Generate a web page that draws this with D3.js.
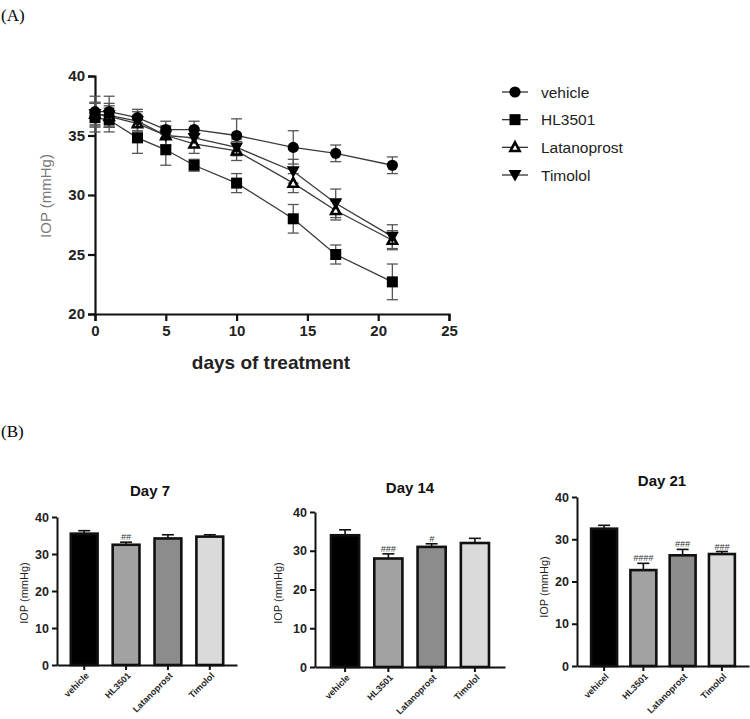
<!DOCTYPE html>
<html><head><meta charset="utf-8">
<script src="https://cdn.jsdelivr.net/npm/d3@7"></script>
<style>body{margin:0;background:#fff}svg{display:block}</style>
</head><body>
<svg id="c" width="750" height="719"></svg>
<script>
// ---------- DATA ----------
const days = [0, 1, 3, 5, 7, 10, 14, 17, 21];
const seriesNames = ["vehicle", "HL3501", "Latanoprost", "Timolol"];
const vehicleMean = [37, 37, 36.5, 35.5, 35.5, 35, 34, 33.5, 32.5];
const vehicleErr  = [1.3, 1.3, 0.7, 0.7, 0.7, 1.4, 1.4, 0.7, 0.7];
const hlMean      = [36.5, 36.3, 34.8, 33.8, 32.5, 31, 28, 25, 22.7];
const hlErr       = [1.2, 1.0, 1.3, 1.3, 0.5, 0.8, 1.2, 0.8, 1.5];
const latMean     = [36.8, 36.6, 36, 35, 34.3, 33.7, 31, 28.7, 26.2];
const latErr      = [0.9, 0.9, 0.7, 0.8, 0.8, 0.8, 0.8, 0.8, 0.8];
const timMean     = [36.8, 36.7, 36.2, 35, 34.8, 34, 32, 29.3, 26.5];
const timErr      = [1.0, 1.0, 0.8, 0.8, 0.8, 0.7, 1.0, 1.2, 1.0];
const lineYTicks = [20, 25, 30, 35, 40];
const lineXTicks = [0, 5, 10, 15, 20, 25];

const barTitles = ["Day 7", "Day 14", "Day 21"];
const barCats7  = ["vehicle", "HL3501", "Latanoprost", "Timolol"];
const barCats14 = ["vehicle", "HL3501", "Latanoprost", "Timolol"];
const barCats21 = ["vehicel", "HL3501", "Latanoprost", "Timolol"];
const day7Mean  = [35.5, 32.5, 34.2, 34.7];
const day7Err   = [0.8, 0.7, 1.0, 0.5];
const day7Sig   = ["", "##", "", ""];
const day14Mean = [34, 28, 31, 32];
const day14Err  = [1.4, 1.2, 0.8, 1.2];
const day14Sig  = ["", "###", "#", ""];
const day21Mean = [32.5, 22.7, 26.2, 26.5];
const day21Err  = [0.8, 1.6, 1.4, 0.6];
const day21Sig  = ["", "####", "###", "###"];
const barYTicks = [0, 10, 20, 30, 40];

// ---------- STYLE ----------
const SANS = "'Liberation Sans', Arial, sans-serif";
const SERIF = "'Liberation Serif', 'Times New Roman', serif";
const barFills = ["#000000", "#a2a2a2", "#8c8c8c", "#dadada"];

const svg = d3.select("#c");

// panel letters
svg.append("text").attr("x", 1).attr("y", 21).attr("font-family", SERIF).attr("font-size", 17).text("(A)");
svg.append("text").attr("x", 1).attr("y", 437).attr("font-family", SERIF).attr("font-size", 17).text("(B)");

// ---------- LINE CHART ----------
const xL = d3.scaleLinear().domain([0, 25]).range([95, 449]);
const yL = d3.scaleLinear().domain([20, 40]).range([314, 76]);

const gL = svg.append("g");
const xAx = gL.append("g").attr("transform", "translate(0,314)")
  .call(d3.axisBottom(xL).tickValues(lineXTicks).tickSize(7).tickPadding(4));
const yAx = gL.append("g").attr("transform", "translate(95,0)")
  .call(d3.axisLeft(yL).tickValues(lineYTicks).tickSize(7).tickPadding(3));
[xAx, yAx].forEach(a => {
  a.select(".domain").attr("stroke", "#111").attr("stroke-width", 2.2);
  a.selectAll(".tick line").attr("stroke", "#111").attr("stroke-width", 2.2);
  a.selectAll(".tick text").attr("font-family", SANS).attr("font-weight", "bold")
    .attr("font-size", 15).attr("fill", "#222");
});
gL.append("text").attr("x", 271).attr("y", 369).attr("text-anchor", "middle")
  .attr("font-family", SANS).attr("font-weight", "bold").attr("font-size", 19).attr("fill", "#222")
  .text("days of treatment");
gL.append("text").attr("transform", "translate(51,196) rotate(-90)").attr("text-anchor", "middle")
  .attr("font-family", SANS).attr("font-size", 15).attr("fill", "#7a7a7a").text("IOP (mmHg)");

const lineSeries = [
  {name: seriesNames[0], mean: vehicleMean, err: vehicleErr, shape: "circle"},
  {name: seriesNames[1], mean: hlMean, err: hlErr, shape: "square"},
  {name: seriesNames[2], mean: latMean, err: latErr, shape: "triUp"},
  {name: seriesNames[3], mean: timMean, err: timErr, shape: "triDown"}
];

function marker(g, shape, x, y) {
  if (shape === "circle") {
    g.append("circle").attr("cx", x).attr("cy", y).attr("r", 5.6).attr("fill", "#000");
  } else if (shape === "square") {
    g.append("rect").attr("x", x - 5.5).attr("y", y - 5.5).attr("width", 11).attr("height", 11).attr("fill", "#000");
  } else if (shape === "triUp") {
    g.append("path").attr("d", `M${x},${y-5}L${x+4.6},${y+3.6}L${x-4.6},${y+3.6}Z`)
      .attr("fill", "#fff").attr("stroke", "#000").attr("stroke-width", 2.6).attr("stroke-linejoin", "miter");
  } else {
    g.append("path").attr("d", `M${x},${y+6.5}L${x+6.5},${y-5}L${x-6.5},${y-5}Z`).attr("fill", "#000");
  }
}

const line = d3.line().x((d, i) => xL(days[i])).y(d => yL(d));
lineSeries.forEach(s => {
  gL.append("path").attr("d", line(s.mean)).attr("fill", "none").attr("stroke", "#3a3a3a").attr("stroke-width", 1.3);
});
lineSeries.forEach(s => {
  s.mean.forEach((m, i) => {
    const x = xL(days[i]);
    const y0 = yL(m - s.err[i]), y1 = yL(m + s.err[i]);
    gL.append("line").attr("x1", x).attr("x2", x).attr("y1", y0).attr("y2", y1).attr("stroke", "#555").attr("stroke-width", 1.3);
    [y0, y1].forEach(yy => gL.append("line").attr("x1", x - 5.5).attr("x2", x + 5.5).attr("y1", yy).attr("y2", yy)
      .attr("stroke", "#555").attr("stroke-width", 1.3));
  });
});
lineSeries.forEach(s => {
  s.mean.forEach((m, i) => marker(gL, s.shape, xL(days[i]), yL(m)));
});

// legend
const legY = d3.scalePoint().domain(seriesNames).range([92, 175]);
lineSeries.forEach(s => {
  const y = legY(s.name);
  gL.append("line").attr("x1", 502).attr("x2", 528).attr("y1", y).attr("y2", y).attr("stroke", "#333").attr("stroke-width", 1.3);
  marker(gL, s.shape, 515, y);
  gL.append("text").attr("x", 541).attr("y", y + 5.5).attr("font-family", SANS).attr("font-size", 15.5)
    .attr("fill", "#222").text(s.name);
});

// ---------- BAR CHARTS ----------
const panels = [
  {title: barTitles[0], cats: barCats7, mean: day7Mean, err: day7Err, sig: day7Sig,
   ax: 57, x1: 237, yTop: 517, yBot: 665, inner: 0.36, outer: 0.33, titleX: 150, titleY: 496, labX: 28, labY: 593},
  {title: barTitles[1], cats: barCats14, mean: day14Mean, err: day14Err, sig: day14Sig,
   ax: 315, x1: 505, yTop: 512, yBot: 667, inner: 0.35, outer: 0.37, titleX: 410, titleY: 493, labX: 282, labY: 593},
  {title: barTitles[2], cats: barCats21, mean: day21Mean, err: day21Err, sig: day21Sig,
   ax: 577, x1: 749, yTop: 497, yBot: 666, inner: 0.34, outer: 0.36, titleX: 662, titleY: 486, labX: 548, labY: 587}
];

panels.forEach(p => {
  const g = svg.append("g");
  const x = d3.scaleBand().domain(p.cats).range([p.ax, p.x1]).paddingInner(p.inner).paddingOuter(p.outer);
  const y = d3.scaleLinear().domain([0, 40]).range([p.yBot, p.yTop]);

  // error bars (upper only)
  p.cats.forEach((c, i) => {
    const cx = x(c) + x.bandwidth() / 2;
    const yt = y(p.mean[i] + p.err[i]);
    g.append("line").attr("x1", cx).attr("x2", cx).attr("y1", y(p.mean[i])).attr("y2", yt).attr("stroke", "#111").attr("stroke-width", 1.6);
    g.append("line").attr("x1", cx - 6).attr("x2", cx + 6).attr("y1", yt).attr("y2", yt).attr("stroke", "#111").attr("stroke-width", 1.6);
    if (p.sig[i]) {
      g.append("text").attr("x", cx).attr("y", yt - 2).attr("text-anchor", "middle")
        .attr("font-family", SANS).attr("font-size", 9).attr("font-style", "italic").attr("fill", "#333").text(p.sig[i]);
    }
  });

  g.selectAll("rect.bar").data(p.cats).join("rect").attr("class", "bar")
    .attr("x", d => x(d)).attr("width", x.bandwidth())
    .attr("y", (d, i) => y(p.mean[i])).attr("height", (d, i) => y(0) - y(p.mean[i]))
    .attr("fill", (d, i) => barFills[i]).attr("stroke", "#111").attr("stroke-width", 2.6);

  const xa = g.append("g").attr("transform", `translate(0,${p.yBot})`)
    .call(d3.axisBottom(x).tickSize(5).tickSizeOuter(0).tickFormat(""));
  const ya = g.append("g").attr("transform", `translate(${p.ax},0)`)
    .call(d3.axisLeft(y).tickValues(barYTicks).tickSize(5).tickSizeOuter(0).tickPadding(3));
  [xa, ya].forEach(a => {
    a.select(".domain").attr("stroke", "#111").attr("stroke-width", 2);
    a.selectAll(".tick line").attr("stroke", "#111").attr("stroke-width", 2);
  });
  ya.selectAll(".tick text").attr("font-family", SANS).attr("font-weight", "bold").attr("font-size", 12.5).attr("fill", "#222");

  // rotated category labels
  g.selectAll("text.cat").data(p.cats).join("text").attr("class", "cat")
    .attr("transform", d => `translate(${x(d) + x.bandwidth() / 2 + 3},${p.yBot + 9}) rotate(-45)`)
    .attr("text-anchor", "end").attr("dy", "0.35em")
    .attr("font-family", SANS).attr("font-weight", "bold").attr("font-size", 9).attr("fill", "#222")
    .text(d => d);

  g.append("text").attr("x", p.titleX).attr("y", p.titleY).attr("text-anchor", "middle")
    .attr("font-family", SANS).attr("font-weight", "bold").attr("font-size", 15).attr("fill", "#111").text(p.title);
  g.append("text").attr("transform", `translate(${p.labX},${p.labY}) rotate(-90)`).attr("text-anchor", "middle")
    .attr("font-family", SANS).attr("font-size", 11).attr("fill", "#222").text("IOP (mmHg)");
});
</script>
</body></html>
